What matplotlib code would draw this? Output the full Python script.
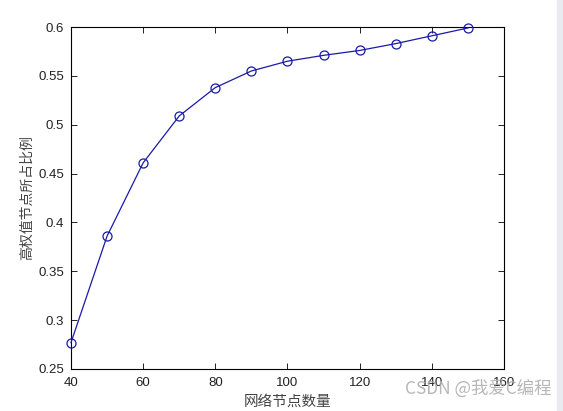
import numpy as np
import matplotlib.pyplot as plt

plt.rcParams['font.family'] = ['Liberation Sans', 'Noto Sans CJK SC', 'DejaVu Sans']

# network size vs share of high-weight nodes
nodes = [40, 50, 60, 70, 80, 90, 100, 110, 120, 130, 140, 150]
ratio = [0.277, 0.386, 0.461, 0.509, 0.538, 0.555, 0.565, 0.571, 0.576, 0.583, 0.591, 0.599]

xticks = [40, 60, 80, 100, 120, 140, 160]
yticks = [0.25, 0.3, 0.35, 0.4, 0.45, 0.5, 0.55, 0.6]

fig = plt.figure(figsize=(5.63, 4.11), dpi=100)
ax = fig.add_axes([0.1261, 0.1022, 0.7691, 0.8321])

ax.plot(nodes, ratio, '-o', color='#1a1aa8', lw=0.9, ms=6.5,
        mfc='none', mec='#1a1aa8', mew=0.9, clip_on=False, zorder=3)

ax.set_xlim(40, 160)
ax.set_ylim(0.25, 0.6)
ax.set_xticks(xticks)
ax.set_yticks(yticks)
ax.set_yticklabels(['0.25', '0.3', '0.35', '0.4', '0.45', '0.5', '0.55', '0.6'])
ax.tick_params(direction='in', top=True, right=True, length=4, width=0.7,
               labelsize=9.5, colors='#222222')
ax.tick_params(axis='x', pad=6)
ax.tick_params(axis='y', pad=5)
for s in ax.spines.values():
    s.set_linewidth(0.8)

ax.set_xlabel('网络节点数量', fontsize=10.5, color='#444444', labelpad=4,
              family=['Noto Sans CJK SC', 'DejaVu Sans'])
ax.set_ylabel('高权值节点所占比例', fontsize=10, color='#444444', labelpad=3,
              family=['Noto Sans CJK SC', 'DejaVu Sans'])

# side strip of the screenshot
fig.patches.append(plt.Rectangle((0.989, 0), 0.011, 1, transform=fig.transFigure,
                                 color='#e8ebf0', zorder=0))

# watermark overlaps the last tick labels, as in the source image
fig.text(0.98, 0.054, 'CSDN @我爱C编程', ha='right', va='center', fontsize=12.5,
         color='#b0b0b0', alpha=0.9, family=['Noto Sans CJK SC', 'DejaVu Sans'])

fig.savefig('out.png', dpi=100)
